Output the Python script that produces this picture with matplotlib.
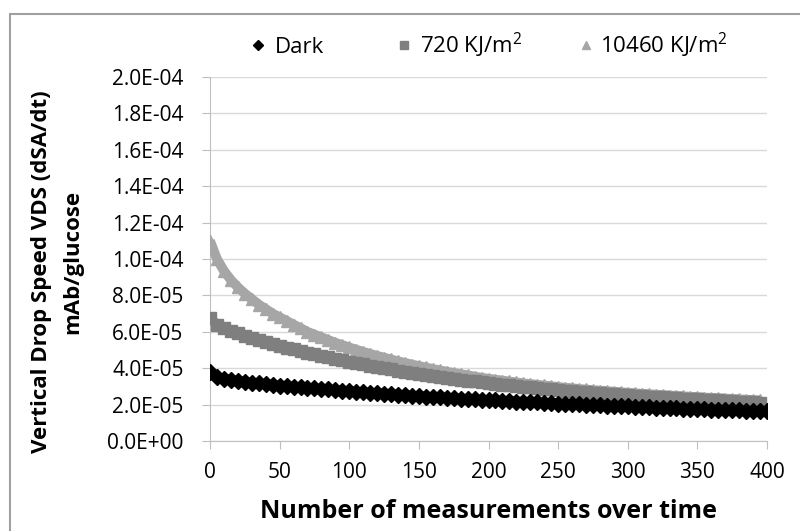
import numpy as np
import matplotlib
matplotlib.use("Agg")
import matplotlib.pyplot as plt
from matplotlib.ticker import FuncFormatter, MultipleLocator
from matplotlib.patches import Rectangle
from matplotlib.lines import Line2D

plt.rcParams['font.family'] = ['Open Sans', 'DejaVu Sans']
plt.rcParams['mathtext.fontset'] = 'custom'
plt.rcParams['mathtext.rm'] = 'Open Sans'

x_dark = list(range(0, 405, 5))
x_720 = list(range(0, 400, 5))
x_10460 = list(range(0, 400, 5))

dark = [3.78, 3.52, 3.42, 3.36, 3.30, 3.25, 3.20, 3.16, 3.12, 3.08,
        3.04, 3.01, 2.98, 2.95, 2.92, 2.89, 2.86, 2.83, 2.80, 2.77,
        2.74, 2.71, 2.68, 2.66, 2.63, 2.60, 2.57, 2.55, 2.52, 2.49,
        2.46, 2.44, 2.42, 2.40, 2.38, 2.35, 2.33, 2.31, 2.29, 2.27,
        2.25, 2.23, 2.21, 2.19, 2.17, 2.15, 2.13, 2.12, 2.10, 2.08,
        2.06, 2.05, 2.03, 2.01, 2.00, 1.98, 1.96, 1.95, 1.93, 1.92,
        1.90, 1.88, 1.87, 1.85, 1.84, 1.83, 1.81, 1.80, 1.78, 1.77,
        1.76, 1.75, 1.73, 1.72, 1.71, 1.70, 1.68, 1.67, 1.66, 1.65,
        1.64]
kj720 = [6.75, 6.40, 6.22, 6.06, 5.92, 5.79, 5.67, 5.55, 5.44, 5.33,
         5.23, 5.13, 5.03, 4.94, 4.85, 4.76, 4.67, 4.59, 4.51, 4.43,
         4.35, 4.28, 4.21, 4.14, 4.07, 4.00, 3.93, 3.87, 3.80, 3.74,
         3.68, 3.62, 3.56, 3.51, 3.46, 3.41, 3.36, 3.31, 3.27, 3.22,
         3.18, 3.14, 3.10, 3.06, 3.02, 2.98, 2.94, 2.91, 2.87, 2.84,
         2.81, 2.77, 2.74, 2.71, 2.68, 2.65, 2.62, 2.60, 2.57, 2.54,
         2.52, 2.49, 2.47, 2.44, 2.42, 2.40, 2.37, 2.35, 2.33, 2.31,
         2.29, 2.27, 2.25, 2.23, 2.21, 2.19, 2.17, 2.15, 2.13, 2.11]
kj10460 = [11.0, 10.0, 9.35, 8.85, 8.45, 8.10, 7.80, 7.50, 7.25, 7.00,
           6.80, 6.60, 6.40, 6.20, 6.00, 5.85, 5.70, 5.55, 5.40, 5.27,
           5.14, 5.02, 4.90, 4.79, 4.68, 4.58, 4.48, 4.38, 4.29, 4.20,
           4.12, 4.04, 3.96, 3.88, 3.81, 3.74, 3.67, 3.61, 3.54, 3.48,
           3.42, 3.37, 3.32, 3.27, 3.22, 3.17, 3.13, 3.09, 3.05, 3.01,
           2.97, 2.93, 2.90, 2.86, 2.83, 2.80, 2.77, 2.74, 2.71, 2.68,
           2.65, 2.62, 2.60, 2.57, 2.55, 2.52, 2.50, 2.48, 2.46, 2.43,
           2.41, 2.39, 2.37, 2.35, 2.33, 2.31, 2.29, 2.27, 2.25, 2.23]

labels = ['Dark', '720 KJ/m$^2$', '10460 KJ/m$^2$']
colors = ['#000000', '#7f7f7f', '#a6a6a6']
markers = ['D', 's', '^']

W, H = 800, 531
fig = plt.figure(figsize=(8, 5.31), dpi=100)
ax = fig.add_axes([210 / W, 1 - 441 / H, 557 / W, 364 / H])

# outer chart border (only top and left are inside the image)
fig.patches.append(Rectangle((10 / W, -0.1), 1.2, 1 - 14 / H + 0.1,
                             transform=fig.transFigure, fill=False,
                             edgecolor='#a0a0a0', lw=1.5))

scale = 1e-5
series = [(x_10460, kj10460, 2), (x_720, kj720, 1), (x_dark, dark, 0)]
for xs, ys, i in series:
    yv = np.array(ys) * scale
    ax.plot(xs, yv, color=colors[i], lw=7, solid_capstyle='butt', zorder=3 + (2 - i))
    ax.plot(xs, yv, ls='none', marker=markers[i], color=colors[i],
            ms=9 if i else 8, zorder=3 + (2 - i))

ax.set_xlim(0, 400)
ax.set_ylim(0, 2e-4)
ax.xaxis.set_major_locator(MultipleLocator(50))
ax.yaxis.set_major_locator(MultipleLocator(2e-5))
ax.yaxis.set_major_formatter(FuncFormatter(lambda v, p: f"{v:.1E}"))

ax.grid(axis='y', color='#d9d9d9', lw=1)
ax.set_axisbelow(True)
for s in ['top', 'right']:
    ax.spines[s].set_visible(False)
for s in ['left', 'bottom']:
    ax.spines[s].set_color('#bfbfbf')
ax.tick_params(axis='both', colors='#bfbfbf', labelcolor='black', labelsize=15, length=6)
ax.tick_params(axis='y', pad=13)
ax.tick_params(axis='x', pad=9)

fig.text(488 / W, 1 - 512 / H, 'Number of measurements over time',
         ha='center', va='center', fontsize=18, fontweight='bold')
fig.text(42 / W, 1 - 272 / H, 'Vertical Drop Speed VDS (dSA/dt)',
         ha='center', va='center', rotation=90, fontsize=16, fontweight='bold')
fig.text(73 / W, 1 - 262 / H, 'mAb/glucose',
         ha='center', va='center', rotation=90, fontsize=16, fontweight='bold')

# legend entries placed like the original (marker x, text x)
leg_pos = [(258, 275), (404, 420), (586, 600)]
for i, (mx, tx) in enumerate(leg_pos):
    fig.add_artist(Line2D([mx / W], [1 - 45 / H], transform=fig.transFigure,
                          ls='none', marker=markers[i], color=colors[i],
                          ms=5 if i == 0 else 6))
    fig.text(tx / W, 1 - 53 / H, labels[i], ha='left', va='baseline', fontsize=16)

fig.savefig('out.png', dpi=100)
